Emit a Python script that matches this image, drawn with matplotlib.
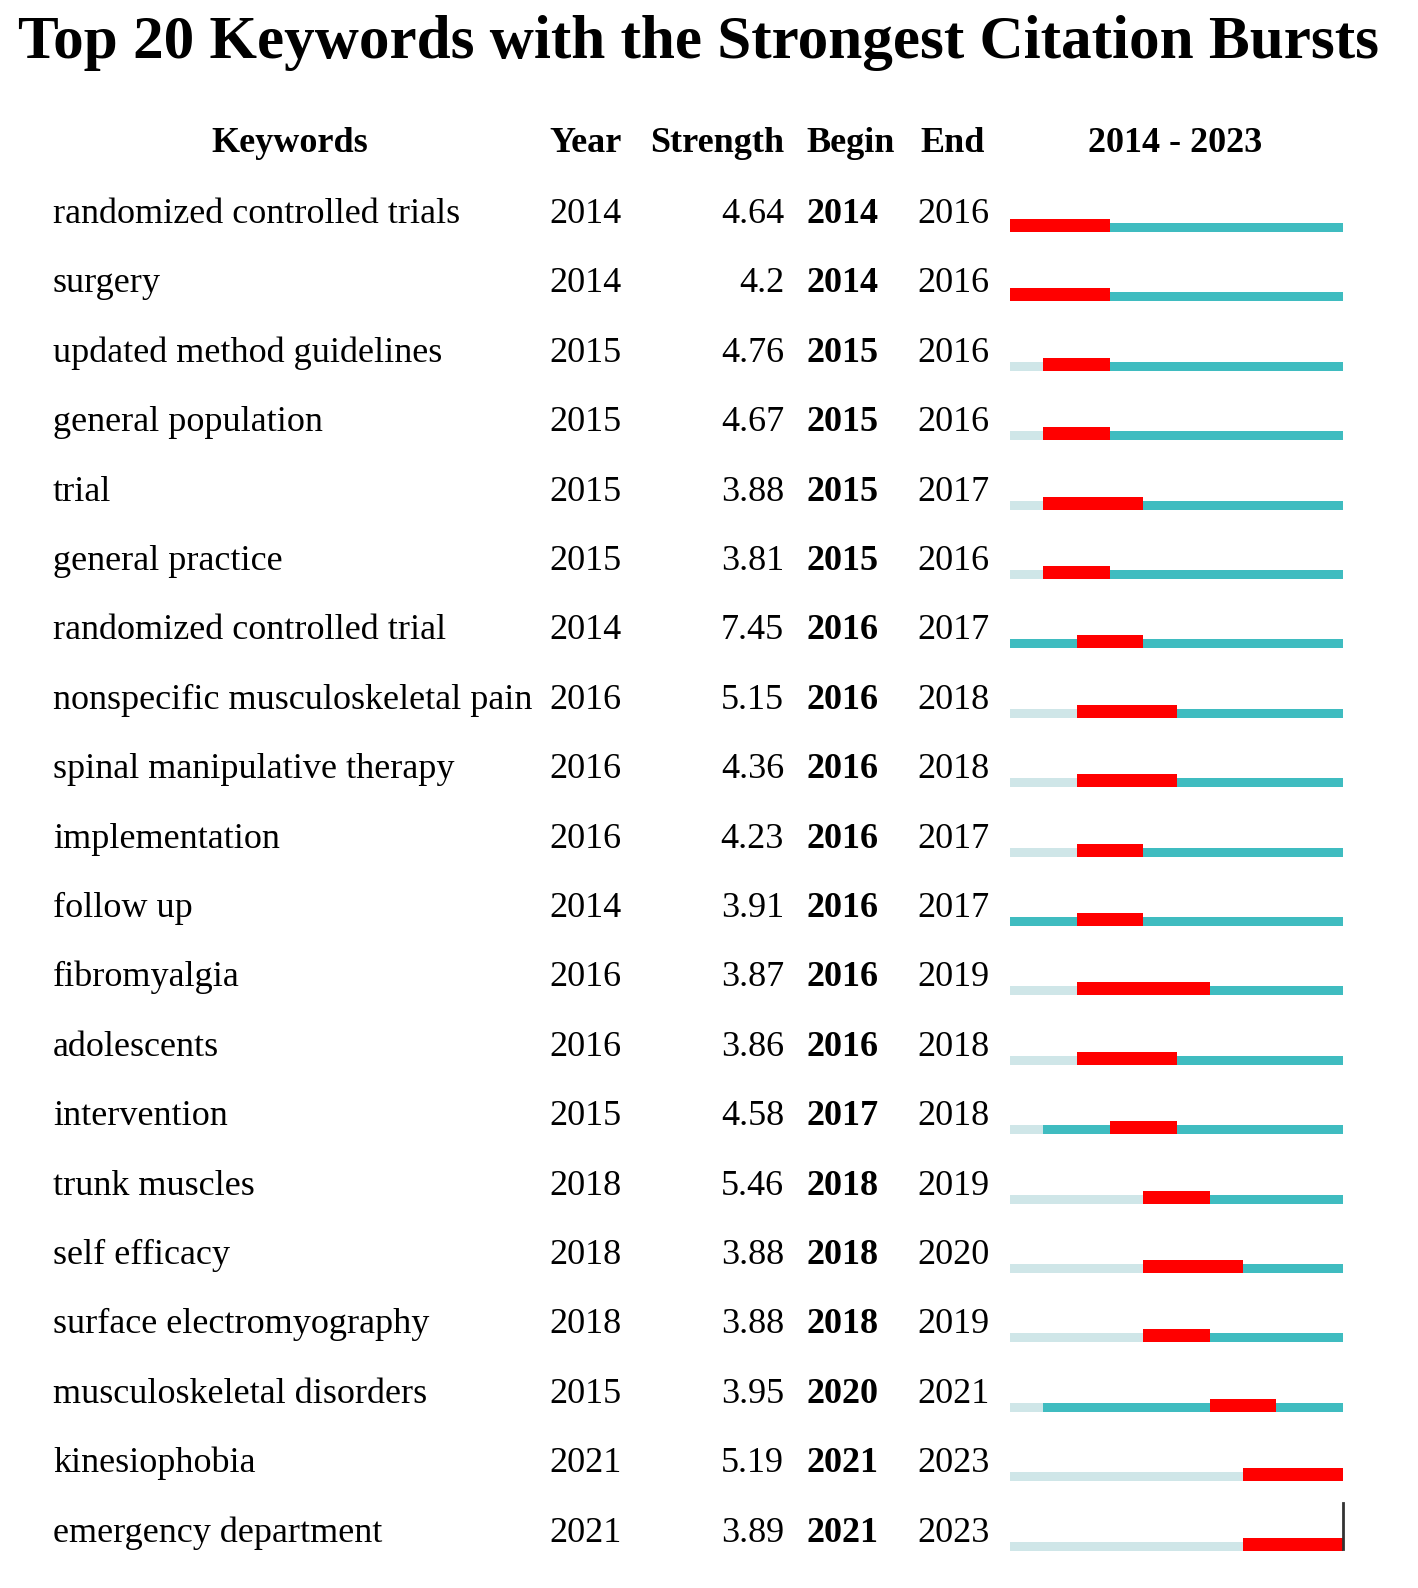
import matplotlib
matplotlib.use("Agg")
import matplotlib.pyplot as plt
import numpy as np

# burst table data
keywords = [
    "randomized controlled trials", "surgery", "updated method guidelines",
    "general population", "trial", "general practice",
    "randomized controlled trial", "nonspecific musculoskeletal pain",
    "spinal manipulative therapy", "implementation", "follow up",
    "fibromyalgia", "adolescents", "intervention", "trunk muscles",
    "self efficacy", "surface electromyography", "musculoskeletal disorders",
    "kinesiophobia", "emergency department",
]
years = [2014, 2014, 2015, 2015, 2015, 2015, 2014, 2016, 2016, 2016,
         2014, 2016, 2016, 2015, 2018, 2018, 2018, 2015, 2021, 2021]
strength = [4.64, 4.2, 4.76, 4.67, 3.88, 3.81, 7.45, 5.15, 4.36, 4.23,
            3.91, 3.87, 3.86, 4.58, 5.46, 3.88, 3.88, 3.95, 5.19, 3.89]
begin = [2014, 2014, 2015, 2015, 2015, 2015, 2016, 2016, 2016, 2016,
         2016, 2016, 2016, 2017, 2018, 2018, 2018, 2020, 2021, 2021]
end = [2016, 2016, 2016, 2016, 2017, 2016, 2017, 2018, 2018, 2017,
       2017, 2019, 2018, 2018, 2019, 2020, 2019, 2021, 2023, 2023]
start_year, end_year = 2014, 2023

RED = "#ff0000"
TEAL = "#3fbcc0"
LIGHT = "#cfe6e8"
FONT = "Liberation Serif"

W, H = 1418, 1588
ROW = 69.4            # px per row
TOP = 210.0           # px of first row centre
fig = plt.figure(figsize=(W / 100, H / 100), dpi=100)
ylim = ((H - TOP) / ROW, -TOP / ROW)

# text axes: x in pixels, y in rows
ax = fig.add_axes([0, 0, 1, 1])
ax.set_xlim(0, W)
ax.set_ylim(*ylim)
ax.axis("off")

# timeline axes: x in years
bx = fig.add_axes([1010 / W, 0, 333 / W, 1])
bx.set_xlim(start_year, end_year + 1)
bx.set_ylim(*ylim)
bx.axis("off")

fs = 26
base = 13 / ROW

ax.text(W / 2 - 10, -2.19, "Top 20 Keywords with the Strongest Citation Bursts",
        ha="center", va="baseline", fontsize=44, fontweight="bold", family=FONT)

hy = -1 + 0.164
ax.text(290, hy, "Keywords", ha="center", va="baseline", fontsize=fs, fontweight="bold", family=FONT)
ax.text(549, hy, "Year", ha="left", va="baseline", fontsize=fs, fontweight="bold", family=FONT)
ax.text(784, hy, "Strength", ha="right", va="baseline", fontsize=fs, fontweight="bold", family=FONT)
ax.text(806, hy, "Begin", ha="left", va="baseline", fontsize=fs, fontweight="bold", family=FONT)
ax.text(920, hy, "End", ha="left", va="baseline", fontsize=fs, fontweight="bold", family=FONT)
ax.text(1175, hy, f"{start_year} - {end_year}", ha="center", va="baseline",
        fontsize=fs, fontweight="bold", family=FONT)

all_years = np.arange(start_year, end_year + 1)
for i, kw in enumerate(keywords):
    y = i + base
    ax.text(53, y, kw, ha="left", va="baseline", fontsize=fs, family=FONT)
    ax.text(549, y, str(years[i]), ha="left", va="baseline", fontsize=fs, family=FONT)
    ax.text(784, y, f"{strength[i]:g}", ha="right", va="baseline", fontsize=fs, family=FONT)
    ax.text(806, y, str(begin[i]), ha="left", va="baseline", fontsize=fs,
            fontweight="bold", family=FONT)
    ax.text(917, y, str(end[i]), ha="left", va="baseline", fontsize=fs, family=FONT)

    pre = all_years[all_years < years[i]]
    burst = all_years[(all_years >= begin[i]) & (all_years <= end[i])]
    rest = all_years[(all_years >= years[i]) & ((all_years < begin[i]) | (all_years > end[i]))]
    thin_c = i + (13 + 22) / 2 / ROW
    thin_h = 9 / ROW
    bx.barh([thin_c] * len(pre), 1, left=pre, height=thin_h, color=LIGHT, linewidth=0)
    bx.barh([thin_c] * len(rest), 1, left=rest, height=thin_h, color=TEAL, linewidth=0)
    bx.barh([i + (9 + 22) / 2 / ROW] * len(burst), 1, left=burst, height=13 / ROW,
            color=RED, linewidth=0)

# stray marker line at the end of the last row
last = len(keywords) - 1
bx.plot([end_year + 1, end_year + 1], [last - 0.375, last + 0.29], color="#333333", lw=2,
        clip_on=False)

fig.savefig("out.png", dpi=100, facecolor="white")
